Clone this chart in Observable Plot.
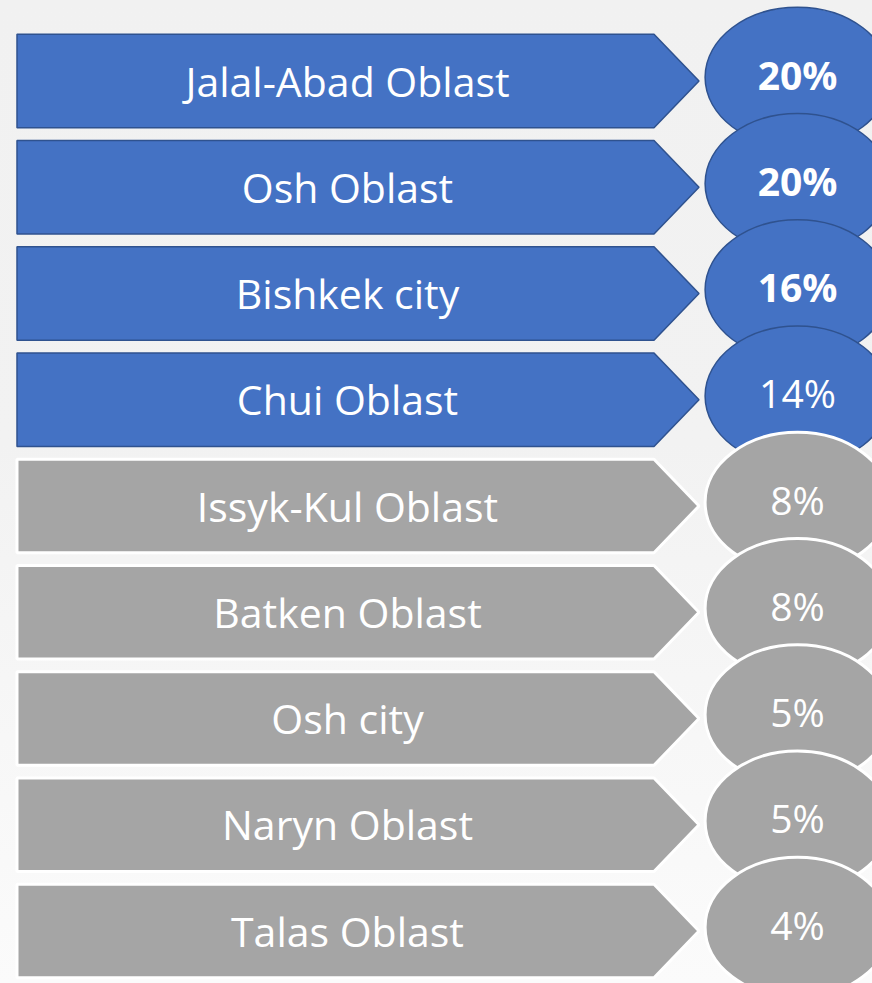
<!DOCTYPE html>
<html>
<head>
<meta charset="utf-8">
<script src="https://cdn.jsdelivr.net/npm/d3@7"></script>
<script src="https://cdn.jsdelivr.net/npm/@observablehq/plot@0.6"></script>
<style>
  html, body { margin: 0; padding: 0; overflow: hidden; }
  body { width: 872px; height: 983px;
    background: linear-gradient(180deg, #f1f1f1 0%, #f2f2f2 45%, #f7f7f7 75%, #fbfbfb 100%); }
  #chart svg { display: block; }
</style>
</head>
<body>
<div id="chart"></div>
<script>
// ---- data ----
const regions = ["Jalal-Abad Oblast", "Osh Oblast", "Bishkek city", "Chui Oblast",
  "Issyk-Kul Oblast", "Batken Oblast", "Osh city", "Naryn Oblast", "Talas Oblast"];
const shares = [20, 20, 16, 14, 8, 8, 5, 5, 4];
const tiers = ["leading", "leading", "leading", "leading",
  "other", "other", "other", "other", "other"];

const rows = regions.map((region, i) => ({i, region, share: shares[i], tier: tiers[i]}));

// ---- layout (horizontal units are px of the 872-wide canvas; vertical units are rows) ----
const W = 872, H = 983;
const firstRow = 81, rowStep = 106.25;
const arrowLeft = 17, arrowShoulder = 654, arrowTip = 699, halfHeight = 0.44;
const labelX = 347, ellipseX = 797, ellipseDy = -0.04;

const styles = {
  leading: {fill: "#4472C4", stroke: "#2F528F", strokeWidth: 1.5},
  other:   {fill: "#A5A5A5", stroke: "#FFFFFF", strokeWidth: 3}
};

// arrow outline points (three per row), drawn as an area between x1 and x2
const arrowPts = rows.flatMap(d => [
  {i: d.i, tier: d.tier, y: d.i - halfHeight, x2: arrowShoulder},
  {i: d.i, tier: d.tier, y: d.i, x2: arrowTip},
  {i: d.i, tier: d.tier, y: d.i + halfHeight, x2: arrowShoulder}
]);

// ellipse symbol (rx = 1.32 * ry)
const ellipse = {
  draw(context, size) {
    const ry = Math.sqrt(size / Math.PI), rx = ry * 1.32, k = 0.5523;
    context.moveTo(rx, 0);
    context.bezierCurveTo(rx, k * ry, k * rx, ry, 0, ry);
    context.bezierCurveTo(-k * rx, ry, -rx, k * ry, -rx, 0);
    context.bezierCurveTo(-rx, -k * ry, -k * rx, -ry, 0, -ry);
    context.bezierCurveTo(k * rx, -ry, rx, -k * ry, rx, 0);
    context.closePath();
  }
};

const marks = [];
for (const t of ["leading", "other"]) {
  marks.push(Plot.areaX(arrowPts.filter(p => p.tier === t), {
    y: "y", x1: () => arrowLeft, x2: "x2", z: "i", curve: "linear",
    fill: styles[t].fill, stroke: styles[t].stroke, strokeWidth: styles[t].strokeWidth,
    strokeLinejoin: "miter"
  }));
}
marks.push(Plot.text(rows, {
  x: () => labelX, y: "i", text: "region", fill: "white",
  fontSize: 41, fontFamily: "Open Sans", dy: 2
}));
// ellipses drawn in row order so each one overlaps the one above
for (const d of rows) {
  const s = styles[d.tier];
  marks.push(Plot.dot([d], {
    x: () => ellipseX, y: r => r.i + ellipseDy, r: 70, symbol: ellipse,
    fill: s.fill, stroke: s.stroke, strokeWidth: s.strokeWidth, fillOpacity: 1
  }));
  marks.push(Plot.text([d], {
    x: () => ellipseX, y: r => r.i + ellipseDy, text: r => r.share + "%",
    fill: "white", fontSize: 39, fontFamily: "Open Sans",
    fontWeight: d.share >= 16 ? "bold" : "normal"
  }));
}

const chart = Plot.plot({
  width: W, height: H,
  marginTop: 0, marginRight: 0, marginBottom: 0, marginLeft: 0,
  style: {background: "transparent", overflow: "hidden"},
  x: {axis: null, domain: [0, W], range: [0, W]},
  y: {axis: null, domain: [-firstRow / rowStep, (H - firstRow) / rowStep], range: [0, H]},
  r: {type: "identity"},
  marks
});
document.getElementById("chart").append(chart);
</script>
</body>
</html>
